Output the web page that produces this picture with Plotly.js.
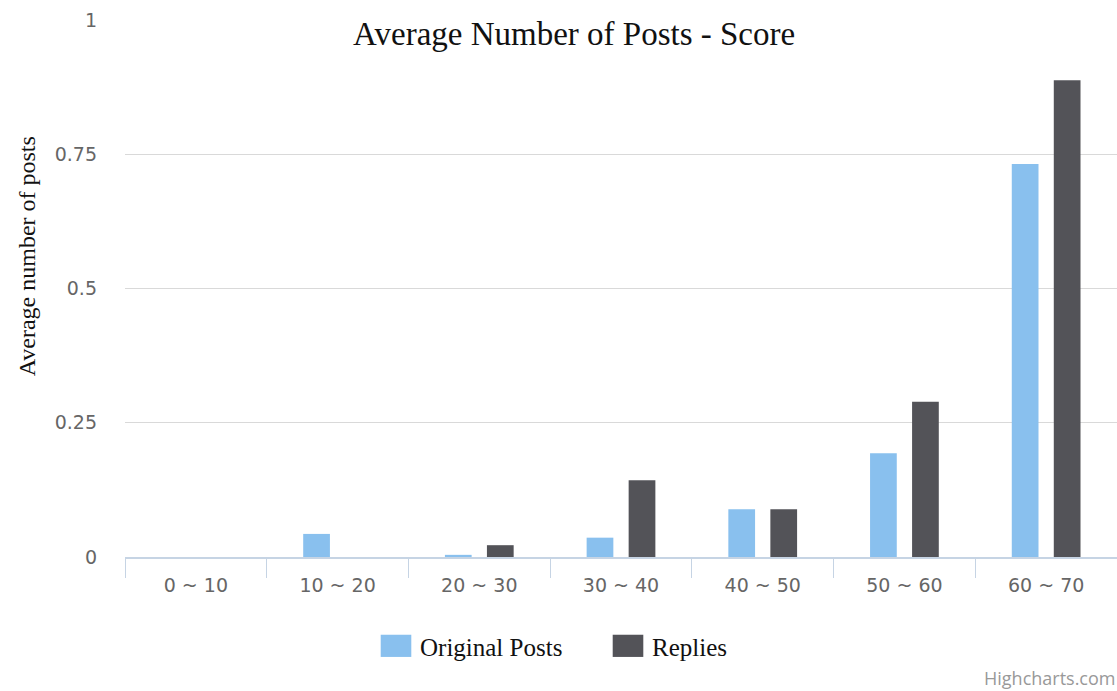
<!DOCTYPE html>
<html>
<head>
<meta charset="utf-8">
<script src="https://cdn.plot.ly/plotly-3.0.1.min.js"></script>
<style>
  html, body { margin: 0; padding: 0; background: #ffffff; }
  #chart { width: 1117px; height: 691px; }
</style>
</head>
<body>
<div id="chart"></div>
<script>
// Score buckets on the x axis
const scoreRanges = ['0 ~ 10', '10 ~ 20', '20 ~ 30', '30 ~ 40', '40 ~ 50', '50 ~ 60', '60 ~ 70'];

// Average number of posts per bucket
const originalPosts = [0, 0.043, 0.004, 0.036, 0.089, 0.193, 0.732];
const replies       = [0, 0,     0.022, 0.143, 0.089, 0.289, 0.888];

// Y axis ticks
const yTickValues = [0, 0.25, 0.5, 0.75, 1];
const yTickLabels = ['0', '0.25', '0.5', '0.75', '1'];

const serif = '"Liberation Serif", "DejaVu Serif", serif';
const sans = '"DejaVu Sans", "Open Sans", sans-serif';

const traces = [
  {
    type: 'bar',
    name: 'Original Posts',
    x: scoreRanges,
    y: originalPosts,
    marker: { color: '#89c0ee', line: { width: 0 } },
    hoverinfo: 'x+y+name'
  },
  {
    type: 'bar',
    name: 'Replies',
    x: scoreRanges,
    y: replies,
    marker: { color: '#535358', line: { width: 0 } },
    hoverinfo: 'x+y+name'
  }
];

const layout = {
  width: 1117,
  height: 691,
  paper_bgcolor: '#ffffff',
  plot_bgcolor: '#ffffff',
  margin: { l: 125, r: 0, t: 20, b: 134, pad: 0 },
  barmode: 'group',
  bargap: 0.407,
  bargroupgap: 0.364,
  title: {
    text: 'Average Number of Posts - Score',
    font: { family: serif, size: 33, color: '#111111' },
    xref: 'container',
    x: 0.514,
    xanchor: 'center',
    yref: 'container',
    y: 0.951,
    yanchor: 'middle'
  },
  xaxis: {
    type: 'category',
    automargin: false,
    showgrid: false,
    zeroline: false,
    showline: true,
    linecolor: '#c6d4e4',
    linewidth: 2,
    ticks: 'outside',
    tickson: 'boundaries',
    ticklen: 19,
    tickwidth: 1,
    tickcolor: '#c6d4e4',
    ticklabelstandoff: 10,
    tickfont: { family: sans, size: 19, color: '#666666' },
    fixedrange: true
  },
  yaxis: {
    automargin: false,
    range: [0, 1],
    tickmode: 'array',
    tickvals: yTickValues,
    ticktext: yTickLabels,
    showgrid: true,
    gridcolor: '#d9d9d9',
    gridwidth: 1,
    zeroline: false,
    showline: false,
    ticks: '',
    ticklabelstandoff: 27,
    tickfont: { family: sans, size: 19, color: '#666666' },
    fixedrange: true
  },
  showlegend: true,
  legend: {
    orientation: 'h',
    xref: 'container',
    x: 380 / 1117,
    xanchor: 'left',
    yref: 'container',
    y: 0.065,
    yanchor: 'middle',
    font: { family: serif, size: 25, color: '#111111' },
    itemwidth: 30,
    entrywidth: 187,
    bgcolor: 'rgba(0,0,0,0)'
  },
  annotations: [
    {
      text: 'Average number of posts',
      textangle: -90,
      xref: 'paper',
      yref: 'paper',
      x: -0.0988,
      y: 0.56,
      xanchor: 'center',
      yanchor: 'middle',
      showarrow: false,
      font: { family: serif, size: 24, color: '#111111' }
    },
    {
      text: 'Highcharts.com',
      xref: 'paper',
      yref: 'paper',
      x: 1,
      y: -0.226,
      xanchor: 'right',
      yanchor: 'middle',
      showarrow: false,
      font: { family: '"Open Sans", sans-serif', size: 18, color: '#999999' }
    }
  ]
};

Plotly.newPlot('chart', traces, layout, { displayModeBar: false, staticPlot: true }).then(function (gd) {
  // Wider rectangular swatches in the legend, placed left of the label
  gd.querySelectorAll('.legend .legendpoints path').forEach(function (p) {
    p.setAttribute('transform', 'translate(16,0) scale(2.55,1.85)');
  });
});
</script>
</body>
</html>
